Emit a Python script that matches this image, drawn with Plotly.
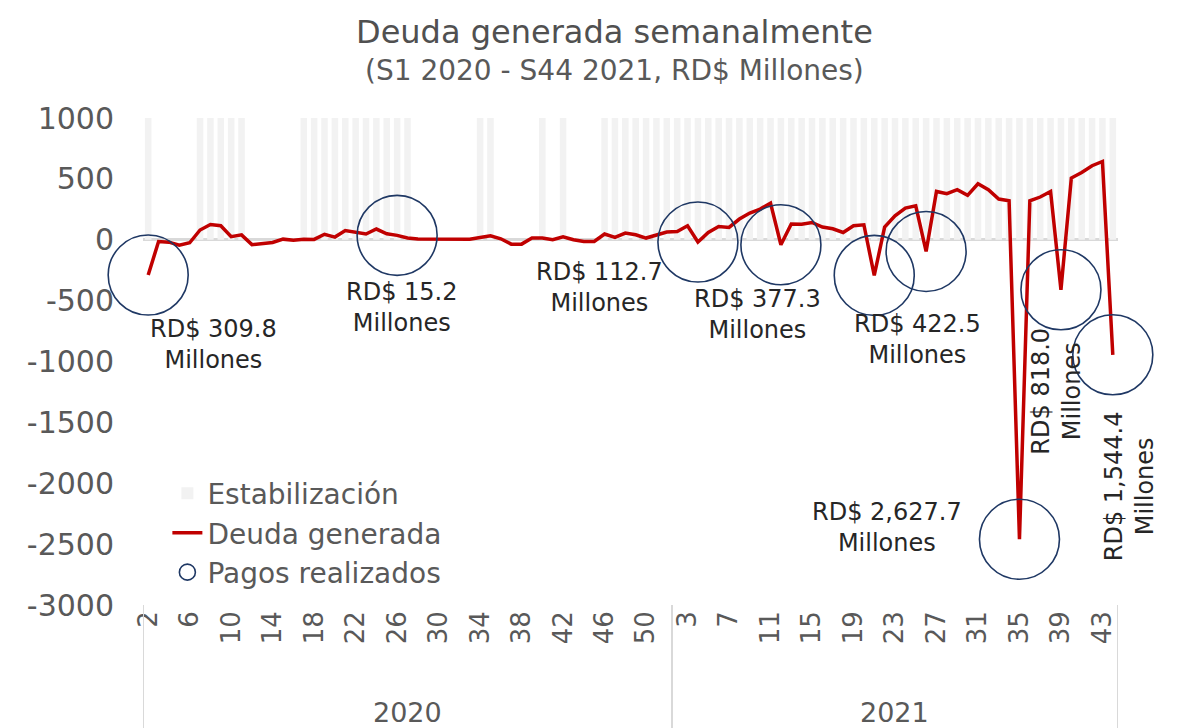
import plotly.graph_objects as go

# ---------------- data ----------------
semanas_2020 = [2, 3, 4, 5, 6, 7, 8, 9, 10, 11, 12, 13, 14, 15, 16, 17, 18, 19, 20, 21,
                22, 23, 24, 25, 26, 27, 28, 29, 30, 31, 32, 33, 34, 35, 36, 37, 38, 39, 40, 41,
                42, 43, 44, 45, 46, 47, 48, 49, 50, 51, 52]
semanas_2021 = [2, 3, 4, 5, 6, 7, 8, 9, 10, 11, 12, 13, 14, 15, 16, 17, 18, 19, 20,
                21, 22, 23, 24, 25, 26, 27, 28, 29, 30, 31, 32, 33, 34, 35, 36, 37, 38, 39, 40,
                41, 42, 43, 44]

deuda_2020 = [-290, -15, -20, -45, -25, 80, 125, 115, 25, 40,
              -40, -33, -22, 5, -5, 5, 3, 45, 22, 75,
              60, 47, 88, 49, 36, 14, 6, 5, 4, 4,
              4, 5, 19, 33, 8, -36, -36, 14, 14, 0,
              25, 0, -14, -14, 47, 19, 55, 41, 14, 41,
              63]
deuda_2021 = [68, 115, -19, 60, 109, 101, 170, 219, 252,
              301, -41, 129, 127, 142, 104, 90, 60, 115, 123,
              -293, 104, 197, 260, 279, -96, 397, 378, 411, 365,
              460, 411, 334, 320, -2460, 320, 351, 397, -411, 507,
              553, 608, 643, -945]

estab_2020 = [2, 7, 8, 9, 10, 11, 17, 18, 19, 20, 21, 22, 23, 24, 25, 26, 27,
              34, 35, 40, 42, 46, 47, 48, 49, 50, 51, 52]
estab_2021 = semanas_2021[:]  # every week of 2021
estab_altura = 1000

pagos = [("2020", 2), ("2020", 26), ("2021", 4), ("2021", 12), ("2021", 21),
         ("2021", 26), ("2021", 35), ("2021", 39), ("2021", 44)]

etiquetas_pagos = ["RD$ 309.8<br>Millones", "RD$ 15.2<br>Millones", "RD$ 112.7<br>Millones",
                   "RD$ 377.3<br>Millones", "RD$ 422.5<br>Millones", "RD$ 2,627.7<br>Millones",
                   "RD$ 818.0<br>Millones", "RD$ 1,544.4<br>Millones"]

y_ticks = [-3000, -2500, -2000, -1500, -1000, -500, 0, 500, 1000]

# ---------------- build ----------------
def cat(y, w):
    return f"{y} S{w}"

categorias = [cat("2020", w) for w in semanas_2020] + [cat("2021", w) for w in semanas_2021]
deuda = deuda_2020 + deuda_2021
deuda_map = dict(zip(categorias, deuda))

estab_x = [cat("2020", w) for w in estab_2020] + [cat("2021", w) for w in estab_2021]
pagos_x = [cat(y, w) for y, w in pagos]
pagos_y = [deuda_map[c] for c in pagos_x]

tick_vals = categorias[::4]
tick_text = [c.split(" S")[1] for c in tick_vals]

FONT = "DejaVu Sans"
GRAY = "#595959"
TXT = "#262626"

fig = go.Figure()
fig.add_trace(go.Bar(x=estab_x, y=[estab_altura] * len(estab_x), name="Estabilización",
                     marker=dict(color="#f2f2f2", line=dict(width=0))))
fig.add_trace(go.Scatter(x=categorias, y=deuda, mode="lines", name="Deuda generada",
                         line=dict(color="#c00000", width=3.5)))
fig.add_trace(go.Scatter(x=pagos_x, y=pagos_y, mode="markers", name="Pagos realizados",
                         cliponaxis=False,
                         marker=dict(symbol="circle-open", size=80,
                                     color="#1f3864", line=dict(width=1.6, color="#1f3864"))))

n = len(categorias)
n20 = len(semanas_2020)

# label positions (x in category index, y in data units)
pos_etiquetas = [(6.3, -863, 0), (24.5, -559, 0), (43.5, -394, 0), (58.7, -616, 0),
                 (74.2, -822, 0), (71.2, -2366, 0), (87.6, -1241, -90), (94.6, -2021, -90)]
annotations = []
for txt, (ax_, ay_, ang) in zip(etiquetas_pagos, pos_etiquetas):
    annotations.append(dict(x=(ax_ + 0.5) / n, y=ay_, xref="paper", yref="y", text=txt,
                            showarrow=False, textangle=ang,
                            font=dict(family=FONT, size=24, color=TXT),
                            xanchor="center", yanchor="middle"))

annotations += [
    dict(x=(n20 - 1) / 2, y=-0.22, xref="x", yref="paper", text="2020", showarrow=False,
         font=dict(family=FONT, size=27, color=GRAY), xanchor="center", yanchor="middle"),
    dict(x=n20 + (n - n20 - 1) / 2, y=-0.22, xref="x", yref="paper", text="2021", showarrow=False,
         font=dict(family=FONT, size=27, color=GRAY), xanchor="center", yanchor="middle"),
    dict(x=0.484, y=1.1766, xref="paper", yref="paper", text="Deuda generada semanalmente",
         showarrow=False, font=dict(family=FONT, size=32, color="#505050"),
         xanchor="center", yanchor="middle"),
    dict(x=0.484, y=1.0985, xref="paper", yref="paper", text="(S1 2020 - S44 2021, RD$ Millones)",
         showarrow=False, font=dict(family=FONT, size=28, color=GRAY),
         xanchor="center", yanchor="middle"),
]

shapes = []
for xs in (-0.5, n20 - 0.5, n - 0.5):
    shapes.append(dict(type="line", xref="x", yref="paper", x0=xs, x1=xs, y0=0.0, y1=-0.26,
                       line=dict(color="#d9d9d9", width=2)))

fig.update_layout(
    width=1191, height=728,
    margin=dict(l=143, r=73, t=118, b=123),
    paper_bgcolor="white", plot_bgcolor="white",
    bargap=0.37,
    font=dict(family=FONT, color=GRAY),
    showlegend=True,
    legend=dict(x=0.025, y=0.28, xanchor="left", yanchor="top",
                font=dict(family=FONT, size=28, color=GRAY),
                bgcolor="rgba(0,0,0,0)", tracegroupgap=4),
    annotations=annotations,
    shapes=shapes,
)
fig.update_xaxes(type="category", categoryorder="array", categoryarray=categorias,
                 range=[-0.5, n - 0.5], tickmode="array", tickvals=tick_vals, ticktext=tick_text,
                 tickangle=-90, tickfont=dict(family=FONT, size=26, color=GRAY),
                 showline=False, showgrid=False, ticks="", zeroline=False)
fig.update_yaxes(range=[-3000, 1000], tickmode="array", tickvals=y_ticks,
                 ticktext=[str(v) for v in y_ticks],
                 showgrid=False, showline=False, zeroline=True, zerolinecolor="#d9d9d9",
                 zerolinewidth=3, ticks="", ticklabelstandoff=28,
                 tickfont=dict(family=FONT, size=30, color=GRAY))

fig.write_html("out.html", config={"displayModeBar": False},
               post_script="document.body.style.margin='0px';document.body.style.overflow='hidden';")
